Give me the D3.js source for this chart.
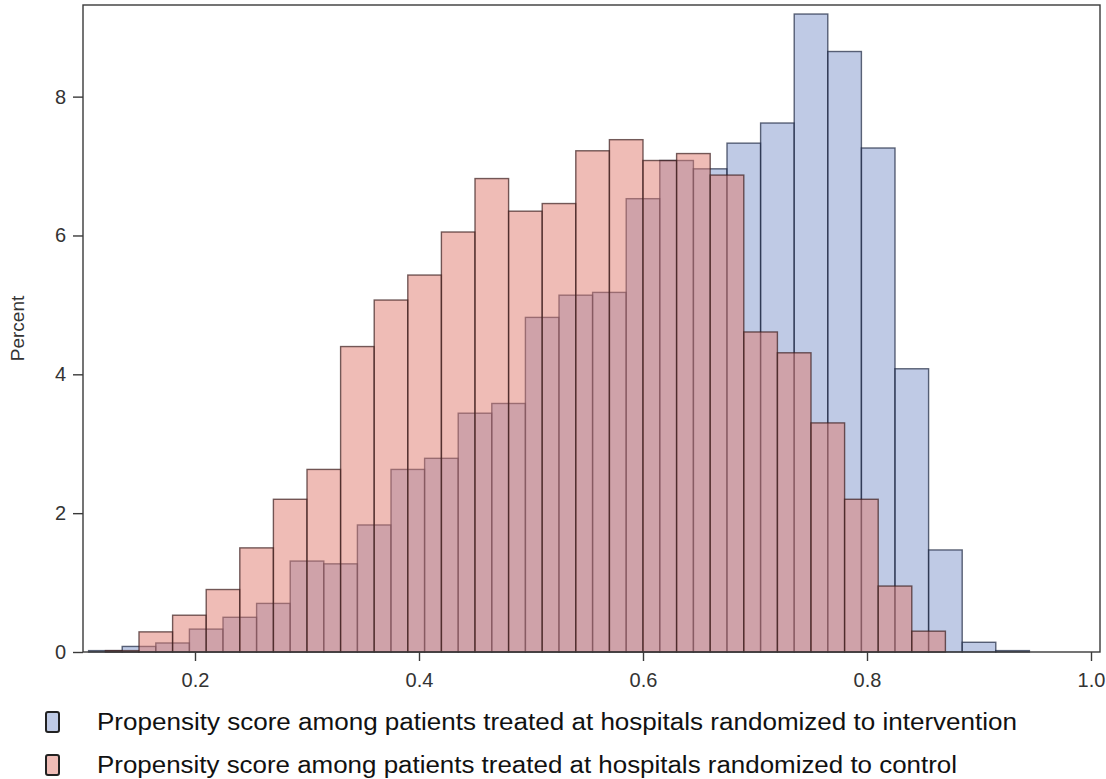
<!DOCTYPE html>
<html>
<head>
<meta charset="utf-8">
<script src="https://cdn.jsdelivr.net/npm/d3@7/dist/d3.min.js"></script>
<style>
  html, body { margin: 0; padding: 0; background: #fff; }
  svg { display: block; }
</style>
</head>
<body>
<svg id="chart" width="1106" height="779"></svg>
<script>
// ---- Data ----
const binWidth = 0.03;
const interventionMidpoints = [0.12,0.15,0.18,0.21,0.24,0.27,0.30,0.33,0.36,0.39,0.42,0.45,0.48,0.51,0.54,0.57,0.60,0.63,0.66,0.69,0.72,0.75,0.78,0.81,0.84,0.87,0.90,0.93];
const interventionPercent   = [0.02,0.08,0.13,0.33,0.50,0.70,1.31,1.27,1.83,2.63,2.79,3.44,3.58,4.82,5.14,5.18,6.53,7.08,6.96,7.33,7.62,9.19,8.65,7.26,4.08,1.47,0.14,0.02];
const controlMidpoints = [0.135,0.165,0.195,0.225,0.255,0.285,0.315,0.345,0.375,0.405,0.435,0.465,0.495,0.525,0.555,0.585,0.615,0.645,0.675,0.705,0.735,0.765,0.795,0.825,0.855];
const controlPercent   = [0.02,0.29,0.53,0.90,1.50,2.20,2.63,4.40,5.07,5.43,6.05,6.82,6.35,6.46,7.22,7.38,7.08,7.18,6.87,4.61,4.31,3.30,2.20,0.95,0.30];
const xTicks = [0.2, 0.4, 0.6, 0.8, 1.0];
const yTicks = [0, 2, 4, 6, 8];
const yLabel = "Percent";
const legendLabels = [
  "Propensity score among patients treated at hospitals randomized to intervention",
  "Propensity score among patients treated at hospitals randomized to control"
];

// ---- Layout ----
const plotLeft = 83, plotRight = 1100, plotTop = 5, plotBottom = 652;
const svg = d3.select("#chart");

const x = d3.scaleLinear().domain([0.1, 1.0]).range([plotLeft, 1091]);
const y = d3.scaleLinear().domain([0, 9.32]).range([plotBottom, plotTop]);

const series = [
  { mids: interventionMidpoints, vals: interventionPercent, fill: "#7f95cc", stroke: "#1c2640" },
  { mids: controlMidpoints, vals: controlPercent, fill: "#e07a6e", stroke: "#3a1c1c" }
];

// Bars
series.forEach(s => {
  const data = s.mids.map((m, i) => ({ m, v: s.vals[i] }));
  svg.append("g")
    .selectAll("rect")
    .data(data)
    .join("rect")
    .attr("x", d => x(d.m - binWidth / 2))
    .attr("width", d => x(d.m + binWidth / 2) - x(d.m - binWidth / 2))
    .attr("y", d => y(d.v))
    .attr("height", d => y(0) - y(d.v))
    .attr("fill", s.fill)
    .attr("fill-opacity", 0.5)
    .attr("stroke", s.stroke)
    .attr("stroke-opacity", 0.7)
    .attr("stroke-width", 1.4);
});

// Frame
svg.append("rect")
  .attr("x", plotLeft).attr("y", plotTop)
  .attr("width", plotRight - plotLeft).attr("height", plotBottom - plotTop)
  .attr("fill", "none").attr("stroke", "#3a3a3a").attr("stroke-width", 1.4);

const font = "Liberation Sans, Arial, sans-serif";

// X axis
const xAxis = d3.axisBottom(x).tickValues(xTicks).tickFormat(d3.format(".1f")).tickSize(9).tickPadding(12);
const gx = svg.append("g").attr("transform", `translate(0,${plotBottom})`).call(xAxis);
gx.select(".domain").remove();
gx.selectAll("line").attr("stroke", "#3a3a3a").attr("stroke-width", 1.4);
gx.selectAll("text").attr("font-family", font).attr("font-size", 20).attr("fill", "#333");

// Y axis
const yAxis = d3.axisLeft(y).tickValues(yTicks).tickFormat(d3.format("d")).tickSize(10).tickPadding(7);
const gy = svg.append("g").attr("transform", `translate(${plotLeft},0)`).call(yAxis);
gy.select(".domain").remove();
gy.selectAll("line").attr("stroke", "#3a3a3a").attr("stroke-width", 1.4);
gy.selectAll("text").attr("font-family", font).attr("font-size", 20).attr("fill", "#333");

// Y label
svg.append("text")
  .attr("transform", `translate(24,${(plotTop + plotBottom) / 2}) rotate(-90)`)
  .attr("text-anchor", "middle")
  .attr("font-family", font)
  .attr("font-size", 19).attr("fill", "#333")
  .text(yLabel);

// Legend
const legendY = [722, 765];
const legendWidths = [920, 860];
series.forEach((s, i) => {
  const g = svg.append("g");
  g.append("rect")
    .attr("x", 46).attr("y", legendY[i] - 10)
    .attr("width", 13).attr("height", 20)
    .attr("rx", 2).attr("ry", 2)
    .attr("fill", s.fill).attr("fill-opacity", 0.5)
    .attr("stroke", "#222").attr("stroke-width", 2);
  g.append("text")
    .attr("x", 97).attr("y", legendY[i] + 8)
    .attr("font-family", "Liberation Sans Narrow, Liberation Sans, Arial, sans-serif")
    .attr("font-size", 23).attr("fill", "#111")
    .attr("textLength", legendWidths[i])
    .attr("lengthAdjust", "spacingAndGlyphs")
    .text(legendLabels[i]);
});
</script>
</body>
</html>
